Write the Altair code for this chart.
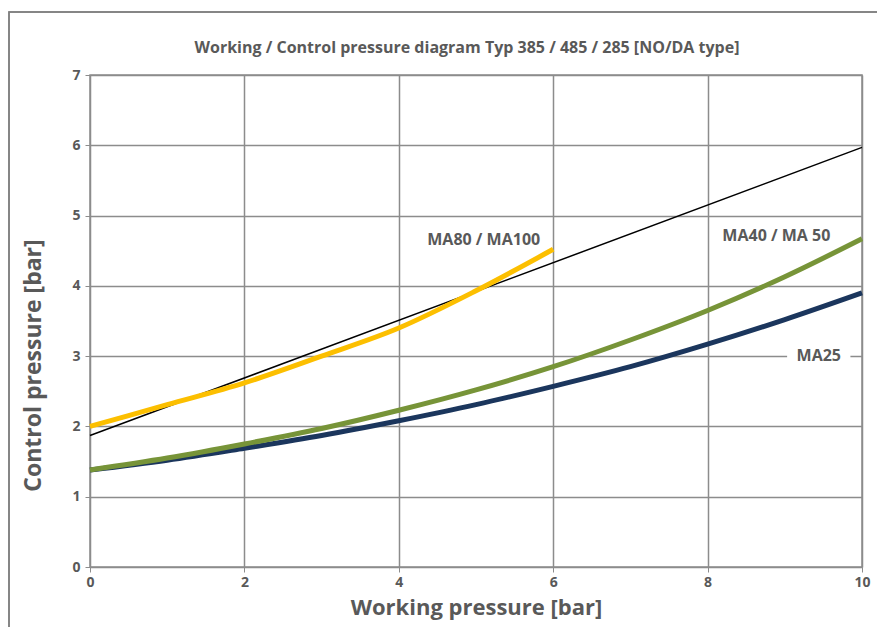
import altair as alt
import pandas as pd

# Data
x_pts = [0, 1, 2, 3, 4, 5, 6, 7, 8, 9, 10]
ma25 = [1.38, 1.52, 1.69, 1.87, 2.08, 2.31, 2.57, 2.85, 3.17, 3.52, 3.90]
ma40 = [1.38, 1.55, 1.75, 1.97, 2.23, 2.52, 2.85, 3.23, 3.65, 4.13, 4.67]
ma80_x = [0, 1, 2, 3, 4, 5, 6]
ma80 = [2.00, 2.31, 2.62, 3.00, 3.40, 3.93, 4.52]
ref_x = [0, 10]
ref_y = [1.87, 5.97]

label_text = ["MA80 / MA100", "MA40 / MA 50", "MA25"]
label_x = [5.1, 8.89, 9.44]
label_y = [4.65, 4.71, 3.0]
label_hw = [0.85, 0.85, 0.41]   # half-width of white label box (x units)
label_hh = [0.2, 0.22, 0.2]     # half-height of white label box (y units)

title_text = "Working / Control pressure diagram Typ 385 / 485 / 285 [NO/DA type]"

rows = []
for xv, yv in zip(x_pts, ma25):
    rows.append({"x": xv, "y": yv, "s": "MA25"})
for xv, yv in zip(x_pts, ma40):
    rows.append({"x": xv, "y": yv, "s": "MA40"})
for xv, yv in zip(ma80_x, ma80):
    rows.append({"x": xv, "y": yv, "s": "MA80"})
df = pd.DataFrame(rows)
ref = pd.DataFrame({"x": ref_x, "y": ref_y})
lab = pd.DataFrame({"t": label_text, "x": label_x, "y": label_y,
                    "x0": [a - b for a, b in zip(label_x, label_hw)],
                    "x1": [a + b for a, b in zip(label_x, label_hw)],
                    "y0": [a - b for a, b in zip(label_y, label_hh)],
                    "y1": [a + b for a, b in zip(label_y, label_hh)]})
ttl = pd.DataFrame({"t": [title_text]})

FONT = "Open Sans"
GRAY = "#595959"
GRID = "#8c8c8c"

xscale = alt.Scale(domain=[0, 10], nice=False)
yscale = alt.Scale(domain=[0, 7], nice=False)

xaxis = alt.Axis(values=[0, 2, 4, 6, 8, 10], title="Working pressure [bar]", format="d",
                 grid=True, gridColor=GRID, gridWidth=1.5, domain=False,
                 tickColor=GRID, tickSize=5, labelFont=FONT, labelFontSize=14,
                 labelFontWeight="bold", labelColor=GRAY, labelPadding=3,
                 labelFlush=False,
                 titleFont=FONT, titleFontSize=22, titleFontWeight="bold",
                 titleColor=GRAY, titlePadding=8)
yaxis = alt.Axis(values=[0, 1, 2, 3, 4, 5, 6, 7], title="Control pressure [bar]", format="d",
                 grid=True, gridColor=GRID, gridWidth=1.5, domain=False,
                 tickColor=GRID, tickSize=5, labelFont=FONT, labelFontSize=14,
                 labelFontWeight="bold", labelColor=GRAY, labelPadding=5,
                 labelFlush=False,
                 titleFont=FONT, titleFontSize=23, titleFontWeight="bold",
                 titleColor=GRAY, titleX=-50, titleY=290, titleBaseline="alphabetic",
                 titleAngle=270)

base_ref = alt.Chart(ref).mark_line(color="black", strokeWidth=1.5).encode(
    x=alt.X("x:Q", scale=xscale, axis=xaxis),
    y=alt.Y("y:Q", scale=yscale, axis=yaxis),
)

curves = alt.Chart(df).mark_line(strokeWidth=5, interpolate="monotone").encode(
    x=alt.X("x:Q", scale=xscale),
    y=alt.Y("y:Q", scale=yscale),
    color=alt.Color("s:N", scale=alt.Scale(domain=["MA25", "MA40", "MA80"],
                                           range=["#1b365d", "#779438", "#fcbf00"]),
                    legend=None),
    order=alt.Order("s:N"),
)

boxes = alt.Chart(lab).mark_rect(color="white").encode(
    x=alt.X("x0:Q", scale=xscale), x2="x1:Q",
    y=alt.Y("y0:Q", scale=yscale), y2="y1:Q",
)
texts = alt.Chart(lab).mark_text(font=FONT, fontSize=16, fontWeight="bold",
                                 color=GRAY).encode(
    x=alt.X("x:Q", scale=xscale), y=alt.Y("y:Q", scale=yscale), text="t:N")

title_mark = alt.Chart(ttl).mark_text(font=FONT, fontSize=16, fontWeight="bold",
                                      color=GRAY, baseline="middle",
                                      clip=False).encode(
    x=alt.value(377), y=alt.value(-27), text="t:N")

frame = alt.Chart(ref).mark_rect(fill=None, stroke="#7f7f7f", strokeWidth=1.5,
                                 clip=False).encode(
    x=alt.value(-81), x2=alt.value(820), y=alt.value(-63), y2=alt.value(640))

chart = alt.layer(boxes, base_ref, curves, texts, title_mark, frame).properties(
    width=772, height=492,
    padding={"left": 82, "top": 67, "right": 15, "bottom": 60},
    autosize=alt.AutoSizeParams(type="none"),
).configure_view(stroke=GRID, strokeWidth=1.5)

chart.save("out.html", embed_options={"renderer": "svg", "actions": False})
